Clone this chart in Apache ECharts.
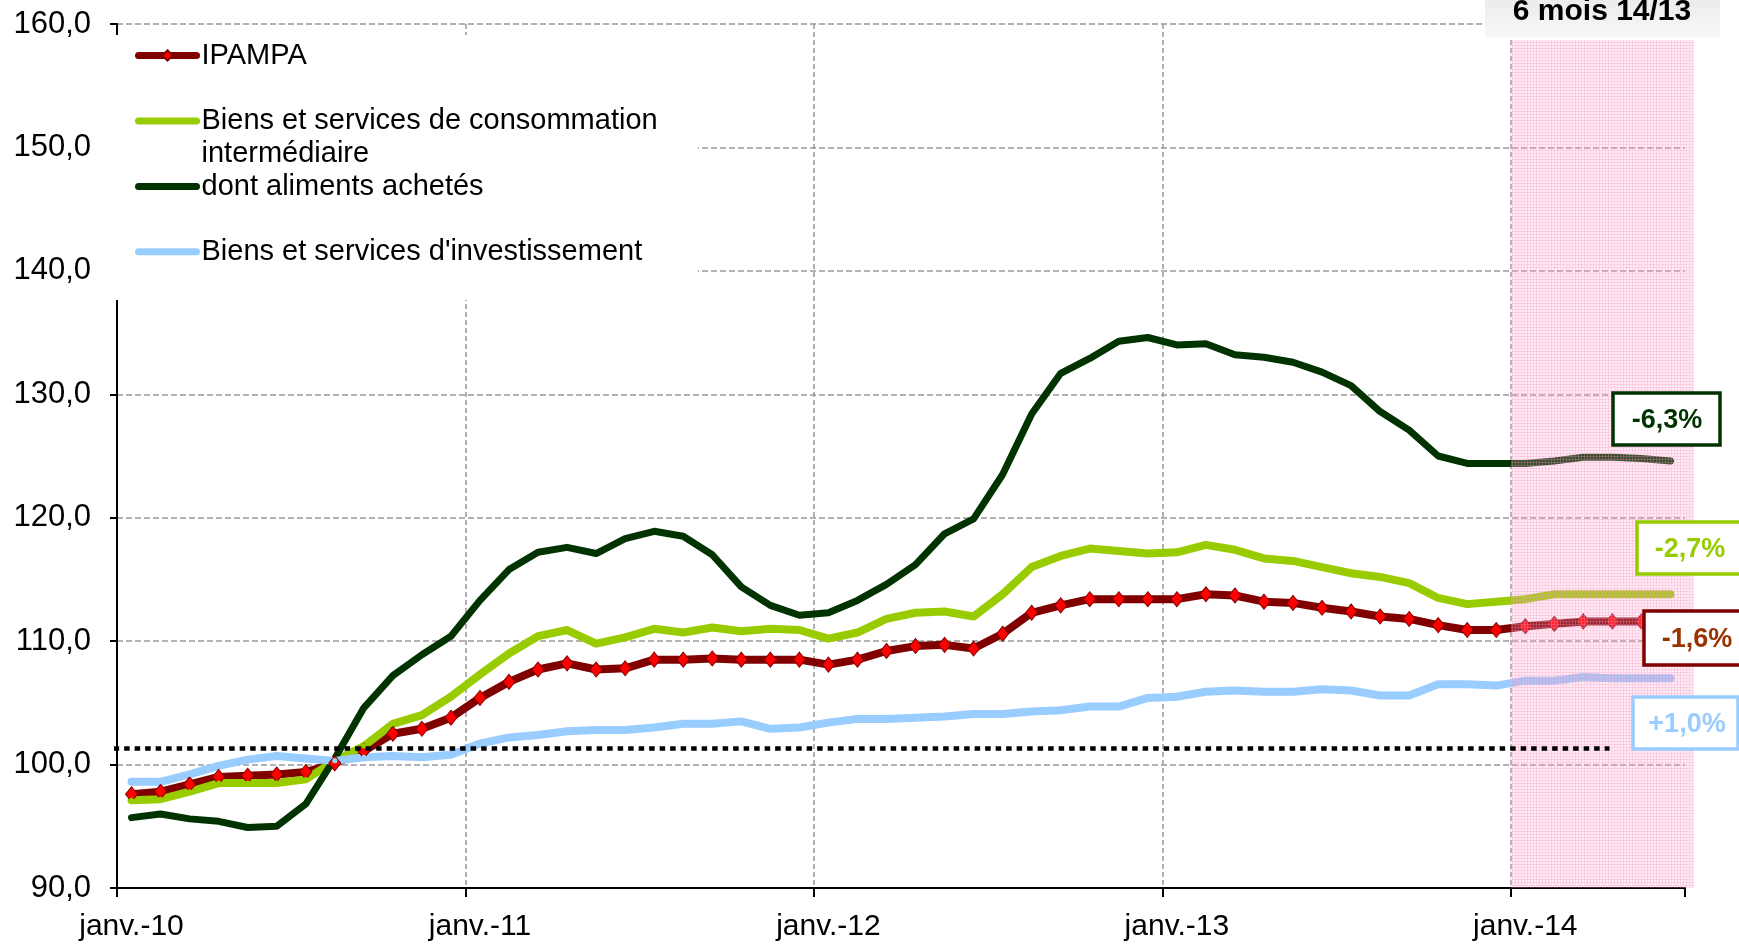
<!DOCTYPE html>
<html>
<head>
<meta charset="utf-8">
<script src="https://cdn.jsdelivr.net/npm/echarts@6/dist/echarts.min.js"></script>
<style>
  html, body { margin: 0; padding: 0; background: #ffffff; }
  #chart { width: 1739px; height: 945px; }
</style>
</head>
<body>
<div id="chart"></div>
<script>
// Monthly indices, base 100 = 2010, January 2010 to June 2014
const monthNames = ['janv.', 'févr.', 'mars', 'avr.', 'mai', 'juin', 'juil.', 'août', 'sept.', 'oct.', 'nov.', 'déc.'];
const years = ['10', '11', '12', '13', '14'];
const lastMonthCount = 6; // 2014 runs to June
const months = [];
years.forEach(function (y, k) {
  const n = k === years.length - 1 ? lastMonthCount : 12;
  for (let m = 0; m < n; m++) months.push(monthNames[m] + '-' + y);
});

const seriesNames = [
  'IPAMPA',
  'Biens et services de consommation intermédiaire',
  'dont aliments achetés',
  "Biens et services d'investissement"
];

const ipampa = [
  97.6, 97.8, 98.4, 99.0, 99.1, 99.2, 99.4, 100.1, 101.1, 102.5, 102.9, 103.8,
  105.4, 106.7, 107.7, 108.2, 107.7, 107.8, 108.5, 108.5, 108.6, 108.5, 108.5, 108.5,
  108.1, 108.5, 109.2, 109.6, 109.7, 109.4, 110.6, 112.3, 112.9, 113.4, 113.4, 113.4,
  113.4, 113.8, 113.7, 113.2, 113.1, 112.7, 112.4, 112.0, 111.8, 111.3, 110.9, 110.9,
  111.2, 111.4, 111.6, 111.6, 111.6, 111.7
];

const consoInter = [
  97.1, 97.2, 97.8, 98.5, 98.5, 98.5, 98.8, 100.3, 101.5, 103.3, 104.0, 105.5,
  107.3, 109.0, 110.4, 110.9, 109.8, 110.3, 111.0, 110.7, 111.1, 110.8, 111.0, 110.9,
  110.2, 110.7, 111.8, 112.3, 112.4, 112.0, 113.8, 116.0, 116.9, 117.5, 117.3, 117.1,
  117.2, 117.8, 117.4, 116.7, 116.5, 116.0, 115.5, 115.2, 114.7, 113.5, 113.0, 113.2,
  113.4, 113.8, 113.8, 113.8, 113.8, 113.8
];

const aliments = [
  95.7, 96.0, 95.6, 95.4, 94.9, 95.0, 96.8, 100.5, 104.6, 107.2, 108.9, 110.4,
  113.3, 115.8, 117.2, 117.6, 117.1, 118.3, 118.9, 118.5, 117.0, 114.4, 112.9, 112.1,
  112.3, 113.3, 114.6, 116.2, 118.7, 119.9, 123.5, 128.4, 131.7, 132.9, 134.3, 134.6,
  134.0, 134.1, 133.2, 133.0, 132.6, 131.8, 130.7, 128.6, 127.1, 125.0, 124.4, 124.4,
  124.4, 124.6, 124.9, 124.9, 124.8, 124.6
];

const investissement = [
  98.6, 98.6, 99.2, 99.9, 100.4, 100.7, 100.5, 100.3, 100.6, 100.7, 100.6, 100.8,
  101.7, 102.2, 102.4, 102.7, 102.8, 102.8, 103.0, 103.3, 103.3, 103.5, 102.9, 103.0,
  103.4, 103.7, 103.7, 103.8, 103.9, 104.1, 104.1, 104.3, 104.4, 104.7, 104.7, 105.4,
  105.5, 105.9, 106.0, 105.9, 105.9, 106.1, 106.0, 105.6, 105.6, 106.5, 106.5, 106.4,
  106.8, 106.8, 107.1, 107.0, 107.0, 107.0
];

// Six-month change 2014/2013 shown at the right of each curve
const changeLabels = ['-6,3%', '-2,7%', '-1,6%', '+1,0%'];

// Dotted reference level and its extent (in months from January 2010)
const refLevel = 101.3;
const refSpan = [-1.2, 51.4];

// Highlighted window "6 mois 14/13" (months from January 2010)
const focusWindow = [48, 54.3];
const focusTop = 158.7;
const focusTitle = '6 mois 14/13';

const yTicks = { min: 90, max: 160, step: 10 };

const FONT = "'Liberation Sans', Arial, sans-serif";

// small pink check pattern for the highlighted window
function pinkPattern() {
  const c = document.createElement('canvas');
  c.width = 3; c.height = 3;
  const g = c.getContext('2d');
  g.fillStyle = 'rgba(250,175,212,0.2)';
  g.fillRect(0, 0, 3, 3);
  g.fillStyle = 'rgba(244,140,192,0.36)';
  g.fillRect(0, 0, 3, 1);
  g.fillRect(0, 1, 1, 2);
  return c;
}
const pattern = pinkPattern();

const chart = echarts.init(document.getElementById('chart'), null, { renderer: 'canvas' });

function legendFor(name, top, showMarker, formatter) {
  return {
    data: [name],
    left: 135,
    top: top,
    padding: 0,
    itemGap: 0,
    itemWidth: 58,
    itemHeight: 13,
    selectedMode: false,
    formatter: formatter || '{name}',
    lineStyle: { width: 7 },
    itemStyle: showMarker ? {} : { opacity: 0 },
    textStyle: { fontFamily: FONT, fontSize: 29, lineHeight: 33, color: '#000' },
    z: 4
  };
}

function changeBox(x, y, w, h, stroke, textColor, text, tx, ty) {
  return [
    { type: 'rect', z: 10, silent: true,
      shape: { x: x, y: y, width: w, height: h },
      style: { fill: '#ffffff', stroke: stroke, lineWidth: 3.5 } },
    { type: 'text', z: 11, silent: true, x: tx, y: ty,
      style: { text: text, fill: textColor, font: 'bold 27px ' + FONT, align: 'center', verticalAlign: 'middle' } }
  ];
}

const option = {
  animation: false,
  backgroundColor: '#ffffff',
  textStyle: { fontFamily: FONT },
  grid: { left: 117, right: 54, top: 24, bottom: 57, containLabel: false },
  legend: [
    legendFor(seriesNames[0], 39, true),
    legendFor(seriesNames[1], 71.4, false, function (n) { return '\n' + n.replace(' intermédiaire', '\nintermédiaire'); }),
    legendFor(seriesNames[2], 170, false),
    legendFor(seriesNames[3], 235.3, false)
  ],
  xAxis: [
    {
      type: 'category',
      data: months,
      boundaryGap: true,
      axisLine: { show: true, lineStyle: { color: '#000', width: 2 } },
      axisTick: { show: true, interval: 11, length: 9, lineStyle: { color: '#000', width: 2 } },
      axisLabel: { interval: 11, fontSize: 30, color: '#000', margin: 24, fontFamily: FONT },
      splitLine: { show: true, interval: 11, showMinLine: false, showMaxLine: false,
        lineStyle: { color: '#999999', width: 1.5, type: [5, 3] } }
    },
    {
      type: 'value', min: 0, max: months.length, show: false
    }
  ],
  yAxis: {
    type: 'value',
    min: yTicks.min,
    max: yTicks.max,
    interval: yTicks.step,
    axisLine: { show: true, lineStyle: { color: '#000', width: 2 } },
    axisTick: { show: true, length: 7, lineStyle: { color: '#000', width: 2 } },
    axisLabel: {
      fontSize: 31, color: '#000', margin: 26, fontFamily: FONT,
      formatter: function (v) { return v.toFixed(1).replace('.', ','); }
    },
    splitLine: { show: true, showMinLine: false, lineStyle: { color: '#999999', width: 1.5, type: [6, 3] } }
  },
  series: [
    {
      name: seriesNames[0], type: 'line', data: ipampa,
      symbol: 'diamond', symbolSize: [12, 15], showAllSymbol: true,
      lineStyle: { color: '#800000', width: 8, join: 'round', cap: 'round' },
      itemStyle: { color: '#ff0000', borderColor: '#800000', borderWidth: 1 },
      z: 2
    },
    {
      name: seriesNames[1], type: 'line', data: consoInter,
      symbol: 'circle', symbolSize: 5, showAllSymbol: true,
      lineStyle: { color: '#99cc00', width: 8, join: 'round', cap: 'round' },
      itemStyle: { color: '#99cc00' },
      z: 2
    },
    {
      name: seriesNames[2], type: 'line', data: aliments,
      symbol: 'none',
      lineStyle: { color: '#003300', width: 7, join: 'round', cap: 'round' },
      itemStyle: { color: '#003300' },
      z: 2
    },
    {
      name: seriesNames[3], type: 'line', data: investissement,
      symbol: 'circle', symbolSize: 5, showAllSymbol: true,
      lineStyle: { color: '#99ccff', width: 8, join: 'round', cap: 'round' },
      itemStyle: { color: '#99ccff' },
      z: 2
    },
    {
      // highlighted "6 mois" window
      type: 'custom', xAxisIndex: 1, yAxisIndex: 0, silent: true, clip: false, z: 6,
      data: [[focusWindow[0], yTicks.min, focusWindow[1], focusTop]],
      renderItem: function (params, api) {
        const p0 = api.coord([api.value(0), api.value(3)]);
        const p1 = api.coord([api.value(2), api.value(1)]);
        return {
          type: 'rect',
          shape: { x: p0[0], y: p0[1], width: p1[0] - p0[0], height: p1[1] - p0[1] },
          style: { fill: { image: pattern, repeat: 'repeat' } }
        };
      }
    },
    {
      // dotted reference level
      type: 'line', xAxisIndex: 1, yAxisIndex: 0, silent: true, clip: false, z: 7,
      data: [[refSpan[0], refLevel], [refSpan[1], refLevel]],
      symbol: 'none',
      lineStyle: { color: '#000', width: 4.5, type: [5.5, 5] }
    }
  ],
  graphic: [
    // white panel behind the legend
    { type: 'rect', z: 3, silent: true, shape: { x: 108, y: 35, width: 590, height: 265 }, style: { fill: '#ffffff' } },
    // title of the highlighted window
    { type: 'rect', z: 3, silent: true, shape: { x: 1485, y: 0, width: 235, height: 38 },
      style: { fill: { type: 'linear', x: 0, y: 0, x2: 0, y2: 1,
        colorStops: [{ offset: 0, color: '#ececec' }, { offset: 1, color: '#f8f8f8' }] } } },
    { type: 'text', z: 4, silent: true, x: 1602, y: 12,
      style: { text: focusTitle, fill: '#000', font: 'bold 30px ' + FONT, align: 'center', verticalAlign: 'middle' } }
  ]
    .concat(changeBox(1613, 393, 107, 52, '#003300', '#003300', changeLabels[0], 1667, 421))
    .concat(changeBox(1637, 522, 110, 52, '#99cc00', '#99cc00', changeLabels[1], 1690, 550))
    .concat(changeBox(1644, 611, 110, 54, '#800000', '#993300', changeLabels[2], 1697, 640))
    .concat(changeBox(1633, 697, 105, 52, '#99ccff', '#99ccff', changeLabels[3], 1687, 725))
};

chart.setOption(option);
</script>
</body>
</html>
